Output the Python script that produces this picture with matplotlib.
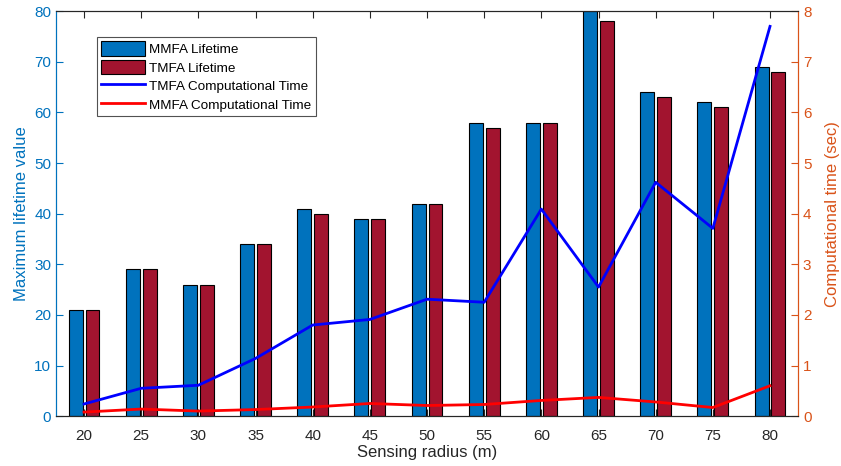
import numpy as np
import matplotlib.pyplot as plt
from matplotlib.patches import Patch
from matplotlib.lines import Line2D

plt.rcParams['font.family'] = ['Liberation Sans', 'DejaVu Sans']

# sensing radius (m)
radius = [20, 25, 30, 35, 40, 45, 50, 55, 60, 65, 70, 75, 80]

# maximum lifetime values
mmfa_life = [21, 29, 26, 34, 41, 39, 42, 58, 58, 80, 64, 62, 69]
tmfa_life = [21, 29, 26, 34, 40, 39, 42, 57, 58, 78, 63, 61, 68]

# computational time (sec)
tmfa_time = [0.24, 0.55, 0.61, 1.14, 1.80, 1.91, 2.31, 2.25, 4.09, 2.55, 4.62, 3.71, 7.70]
mmfa_time = [0.08, 0.14, 0.10, 0.13, 0.18, 0.25, 0.21, 0.23, 0.31, 0.37, 0.28, 0.17, 0.60]

blue_ax = '#0072BD'
orange_ax = '#D95319'
bar_blue = '#0072BD'
bar_red = '#A2142F'

fig = plt.figure(figsize=(8.41, 4.66), dpi=100)
ax = fig.add_axes([0.0666, 0.107, 0.8823, 0.869])
ax2 = ax.twinx()

x = np.array(radius, dtype=float)
w = 1.22
off = 0.74
ax.bar(x - off, mmfa_life, width=w, color=bar_blue, edgecolor='black', linewidth=0.8)
ax.bar(x + off, tmfa_life, width=w, color=bar_red, edgecolor='black', linewidth=0.8)

ax2.plot(x, tmfa_time, color='#0000FF', linewidth=2)
ax2.plot(x, mmfa_time, color='#FF0000', linewidth=2)

ax.set_xlim(17.55, 82.45)
ax.set_ylim(0, 80)
ax2.set_ylim(0, 8)
ax.set_xticks(radius)
ax.set_yticks(np.arange(0, 81, 10))
ax2.set_yticks(np.arange(0, 9, 1))

ax.tick_params(axis='x', direction='in', top=True, length=5, pad=9, labelsize=11, colors='#262626')
ax.tick_params(axis='y', direction='in', length=5, labelsize=11, colors=blue_ax)
ax2.tick_params(axis='y', direction='in', length=5, labelsize=11, colors=orange_ax)

ax.set_xlabel('Sensing radius (m)', fontsize=12, color='#262626', labelpad=2)
ax.set_ylabel('Maximum lifetime value', fontsize=12, color=blue_ax, labelpad=4)
ax2.set_ylabel('Computational time (sec)', fontsize=12, color=orange_ax, labelpad=10)

for a in (ax, ax2):
    a.spines['left'].set_color(blue_ax)
    a.spines['right'].set_color(orange_ax)
    a.spines['bottom'].set_color('#262626')
    a.spines['top'].set_color('#262626')
    for s in a.spines.values():
        s.set_linewidth(0.8)

handles = [
    Patch(facecolor=bar_blue, edgecolor='black', linewidth=0.8),
    Patch(facecolor=bar_red, edgecolor='black', linewidth=0.8),
    Line2D([0], [0], color='#0000FF', linewidth=2),
    Line2D([0], [0], color='#FF0000', linewidth=2),
]
labels = ['MMFA Lifetime', 'TMFA Lifetime', 'TMFA Computational Time', 'MMFA Computational Time']
leg = ax2.legend(handles, labels, loc='upper left', bbox_to_anchor=(0.055, 0.936),
                 fontsize=9.7, frameon=True, fancybox=False, edgecolor='#262626',
                 handlelength=3.3, handleheight=1.3, handletextpad=0.3,
                 labelspacing=0.28, borderpad=0.3, borderaxespad=0)
leg.get_frame().set_linewidth(0.8)

fig.savefig('out.png', dpi=100)
